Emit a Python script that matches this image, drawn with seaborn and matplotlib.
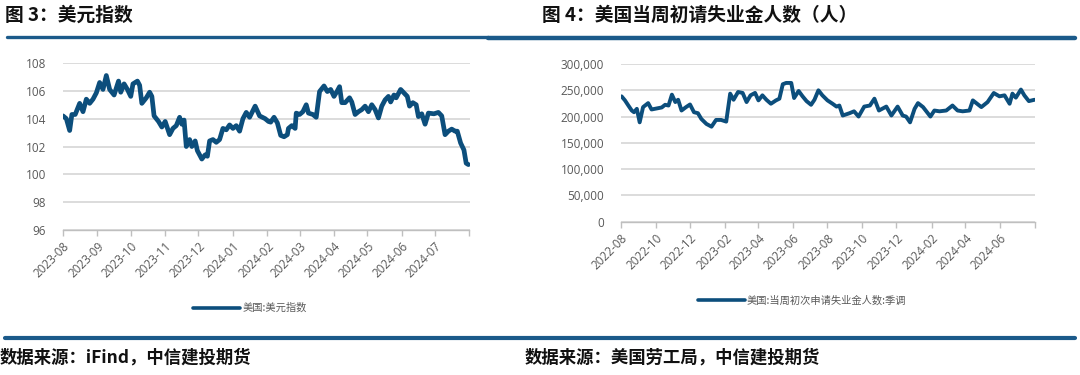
import matplotlib
matplotlib.use("Agg")
import matplotlib.pyplot as plt
from matplotlib.lines import Line2D
from matplotlib.ticker import FuncFormatter
import seaborn as sns
import pandas as pd

# ---------------- data ----------------
dxy_dates = [
    "2023-08-01", "2023-08-04", "2023-08-07", "2023-08-09", "2023-08-12", "2023-08-15", "2023-08-16",
    "2023-08-19", "2023-08-22", "2023-08-25", "2023-08-28", "2023-08-31", "2023-09-03", "2023-09-06",
    "2023-09-09", "2023-09-12", "2023-09-16", "2023-09-20", "2023-09-22", "2023-09-25", "2023-09-28",
    "2023-10-01", "2023-10-03", "2023-10-07", "2023-10-09", "2023-10-11", "2023-10-15", "2023-10-18",
    "2023-10-20", "2023-10-22", "2023-10-26", "2023-10-29", "2023-11-01", "2023-11-05", "2023-11-08",
    "2023-11-11", "2023-11-14", "2023-11-16", "2023-11-18", "2023-11-20", "2023-11-23", "2023-11-25",
    "2023-11-28", "2023-11-30", "2023-12-04", "2023-12-07", "2023-12-09", "2023-12-11", "2023-12-14",
    "2023-12-17", "2023-12-20", "2023-12-23", "2023-12-26", "2023-12-29", "2024-01-01", "2024-01-04",
    "2024-01-07", "2024-01-10", "2024-01-13", "2024-01-16", "2024-01-21", "2024-01-25", "2024-01-30",
    "2024-02-02", "2024-02-04", "2024-02-07", "2024-02-10", "2024-02-13", "2024-02-16", "2024-02-19",
    "2024-02-20", "2024-02-23", "2024-02-26", "2024-02-27", "2024-03-01", "2024-03-04", "2024-03-07",
    "2024-03-09", "2024-03-13", "2024-03-16", "2024-03-19", "2024-03-23", "2024-03-26", "2024-03-29",
    "2024-04-01", "2024-04-04", "2024-04-06", "2024-04-08", "2024-04-11", "2024-04-15", "2024-04-17",
    "2024-04-20", "2024-04-23", "2024-04-26", "2024-04-29", "2024-05-02", "2024-05-05", "2024-05-08",
    "2024-05-11", "2024-05-14", "2024-05-17", "2024-05-20", "2024-05-22", "2024-05-25", "2024-05-27",
    "2024-05-31", "2024-06-03", "2024-06-06", "2024-06-08", "2024-06-11", "2024-06-14", "2024-06-16",
    "2024-06-19", "2024-06-22", "2024-06-25", "2024-06-30", "2024-07-04", "2024-07-07", "2024-07-10",
    "2024-07-13", "2024-07-16", "2024-07-19", "2024-07-21", "2024-07-24", "2024-07-27", "2024-07-29",
    "2024-07-31",
]
dxy_values = [
    104.2, 104.0, 103.15, 104.3, 104.3, 104.9, 105.1,
    104.5, 105.4, 105.1, 105.4, 105.85, 106.6, 106.1,
    107.1, 106.1, 105.7, 106.7, 105.9, 106.5, 106.1,
    105.6, 106.5, 106.7, 106.4, 105.1, 105.5, 105.9,
    105.6, 104.2, 103.8, 103.4, 103.8, 102.85, 103.3,
    103.5, 104.1, 103.6, 103.9, 102.0, 102.5, 102.0,
    102.4, 101.7, 101.1, 101.4, 101.3, 102.4, 102.5,
    102.3, 102.5, 103.3, 103.2, 103.55, 103.3, 103.5,
    103.1, 104.0, 104.45, 104.1, 104.9, 104.2, 104.0,
    103.8, 103.75, 104.1, 103.7, 102.8, 102.7, 102.85,
    103.3, 103.5, 103.3, 104.4, 104.3, 104.5, 105.0,
    104.4, 104.3, 104.1, 105.95, 106.35, 105.95, 106.1,
    105.6, 106.0, 106.3, 105.15, 105.15, 105.5, 105.2,
    104.3, 104.5, 104.65, 104.9, 104.5, 105.0, 104.65,
    104.05, 104.9, 105.35, 105.6, 105.2, 105.7, 105.5,
    106.1, 105.85, 105.6, 104.9, 105.15, 105.0, 104.15,
    104.35, 103.6, 104.4, 104.35, 104.45, 104.2, 102.85,
    103.1, 103.25, 103.1, 103.1, 102.25, 101.75, 100.8,
    100.7,
]

claims_dates = [
    "2022-08-02", "2022-08-08", "2022-08-14", "2022-08-20", "2022-08-24", "2022-08-29", "2022-09-03",
    "2022-09-09", "2022-09-18", "2022-09-24", "2022-10-03", "2022-10-12", "2022-10-18", "2022-10-24",
    "2022-10-30", "2022-11-05", "2022-11-10", "2022-11-16", "2022-11-24", "2022-12-01", "2022-12-08",
    "2022-12-15", "2022-12-21", "2022-12-30", "2023-01-08", "2023-01-16", "2023-01-25", "2023-02-03",
    "2023-02-10", "2023-02-16", "2023-02-24", "2023-03-04", "2023-03-11", "2023-03-18", "2023-03-26",
    "2023-04-01", "2023-04-08", "2023-04-15", "2023-04-23", "2023-05-02", "2023-05-08", "2023-05-14",
    "2023-05-20", "2023-05-29", "2023-06-03", "2023-06-11", "2023-06-18", "2023-06-25", "2023-07-03",
    "2023-07-09", "2023-07-16", "2023-07-23", "2023-08-01", "2023-08-10", "2023-08-17", "2023-08-22",
    "2023-08-28", "2023-09-09", "2023-09-17", "2023-09-25", "2023-10-05", "2023-10-15", "2023-10-23",
    "2023-10-31", "2023-11-13", "2023-11-22", "2023-12-03", "2023-12-12", "2023-12-18", "2023-12-25",
    "2024-01-02", "2024-01-08", "2024-01-17", "2024-01-30", "2024-02-06", "2024-02-15", "2024-02-27",
    "2024-03-09", "2024-03-18", "2024-03-27", "2024-04-08", "2024-04-14", "2024-04-29", "2024-05-10",
    "2024-05-21", "2024-05-31", "2024-06-09", "2024-06-18", "2024-06-23", "2024-06-29", "2024-07-08",
    "2024-07-14", "2024-07-22", "2024-08-01",
]
claims_values = [
    238500, 230800, 221000, 211500, 208300, 214700, 189000,
    218000, 225600, 213500, 215400, 217300, 222400, 221000,
    241700, 227600, 232000, 211500, 218000, 223000, 208300,
    206400, 195500, 186000, 180800, 193600, 193600, 190400,
    243600, 232000, 246800, 245000, 227600, 240400, 245000,
    230800, 240400, 232000, 224400, 230800, 234000, 261500,
    264000, 264000, 235300, 248700, 238500, 229400, 222400,
    232000, 250000, 240400, 230800, 224400, 219000, 221000,
    202000, 206400, 210000, 200000, 219000, 221000, 234000,
    211500, 219000, 202000, 219000, 202000, 200000, 189000,
    214700, 225600, 218000, 200000, 211500, 210000, 211500,
    221000, 211500, 210000, 211500, 230800, 218000, 227500,
    244800, 238500, 240400, 224400, 243600, 236000, 251400,
    240400, 229400, 232000,
]

left_title = "图 3：美元指数"
right_title = "图 4：美国当周初请失业金人数（人）"
left_series = "美国:美元指数"
right_series = "美国:当周初次申请失业金人数:季调"
left_source = "数据来源：iFind，中信建投期货"
right_source = "数据来源：美国劳工局，中信建投期货"
left_yticks = [96, 98, 100, 102, 104, 106, 108]
right_yticks = [0, 50000, 100000, 150000, 200000, 250000, 300000]

# ---------------- style ----------------
sns.set_theme(style="white")
plt.rcParams["font.family"] = ["Open Sans", "Noto Sans CJK SC", "DejaVu Sans"]

LINE = "#0C4E7C"
RULE = "#1B5A8A"
GRID = "#D9D9D9"
TXT = "#595959"

fig = plt.figure(figsize=(10.8, 3.75), dpi=100)

df_l = pd.DataFrame({"date": pd.to_datetime(dxy_dates), "value": dxy_values})
df_r = pd.DataFrame({"date": pd.to_datetime(claims_dates), "value": claims_values})

axl = fig.add_axes([63 / 1080, 1 - 230 / 375, (469.5 - 63) / 1080, (230 - 63) / 375])
axr = fig.add_axes([621 / 1080, 1 - 221.7 / 375, (1034.5 - 621) / 1080, (221.7 - 64) / 375])

sns.lineplot(data=df_l, x="date", y="value", ax=axl, color=LINE, linewidth=3.4, legend=False)
sns.lineplot(data=df_r, x="date", y="value", ax=axr, color=LINE, linewidth=2.8, legend=False)


def style_axis(ax, yticks, xstart, xend, tick_dates):
    ax.set_ylim(yticks[0], yticks[-1])
    ax.set_yticks(yticks)
    ax.set_xlim(pd.Timestamp(xstart), pd.Timestamp(xend))
    ax.set_xticks(pd.to_datetime(tick_dates))
    labels = [pd.Timestamp(d).strftime("%Y-%m") for d in tick_dates]
    labels[-1] = ""
    ax.set_xticklabels(labels, rotation=45, ha="right", rotation_mode="anchor")
    ax.grid(axis="y", color=GRID, linewidth=1.3)
    ax.set_axisbelow(True)
    for s in ["left", "right", "top"]:
        ax.spines[s].set_visible(False)
    ax.spines["bottom"].set_color("#BFBFBF")
    ax.spines["bottom"].set_linewidth(1.0)
    ax.tick_params(axis="x", bottom=True, length=4, width=1.0, color="#BFBFBF",
                   labelsize=8.5, labelcolor=TXT, pad=3)
    ax.tick_params(axis="y", left=False, labelsize=8.5, labelcolor=TXT, pad=6)
    ax.set_xlabel("")
    ax.set_ylabel("")


left_ticks = pd.date_range("2023-08-01", "2024-08-01", freq="MS").strftime("%Y-%m-%d").tolist()
right_ticks = pd.date_range("2022-08-01", "2024-08-01", freq="2MS").strftime("%Y-%m-%d").tolist()
style_axis(axl, left_yticks, "2023-08-01", "2024-08-01", left_ticks)
style_axis(axr, right_yticks, "2022-08-01", "2024-08-01", right_ticks)
axl.yaxis.set_major_formatter(FuncFormatter(lambda v, p: f"{v:.0f}"))
axr.yaxis.set_major_formatter(FuncFormatter(lambda v, p: f"{v:,.0f}"))

# legends
for ax, label, cx, cy in [(axl, left_series, 250 / 1080, 1 - 308 / 375),
                          (axr, right_series, 802 / 1080, 1 - 300.5 / 375)]:
    h = Line2D([0], [0], color=LINE, linewidth=2.6)
    leg = ax.legend([h], [label], loc="center", bbox_to_anchor=(cx, cy),
                    bbox_transform=fig.transFigure, frameon=False,
                    handlelength=4.6, handletextpad=0.2,
                    prop={"family": ["Noto Sans CJK SC"], "size": 7.4})
    for t in leg.get_texts():
        t.set_color(TXT)

# titles
fig.text(5 / 1080, 1 - 15.5 / 375, left_title, fontsize=13.5, fontweight="bold",
         family=["Noto Sans CJK SC"], va="center", ha="left", color="#111111")
fig.text(542 / 1080, 1 - 15.5 / 375, right_title, fontsize=13.5, fontweight="bold",
         family=["Noto Sans CJK SC"], va="center", ha="left", color="#111111")

# rules
fig.add_artist(Line2D([7 / 1080, 488 / 1080], [1 - 37 / 375] * 2, color=RULE, linewidth=2.4,
                      transform=fig.transFigure))
fig.add_artist(Line2D([488 / 1080, 1075 / 1080], [1 - 37.5 / 375] * 2, color=RULE, linewidth=3.2,
                      transform=fig.transFigure))
fig.add_artist(Line2D([5 / 1080, 1075 / 1080], [1 - 338 / 375] * 2, color=RULE, linewidth=3.0,
                      transform=fig.transFigure))

# sources
fig.text(0 / 1080, 1 - 358 / 375, left_source, fontsize=12.5, fontweight="bold",
         family=["Noto Sans CJK SC"], va="center", ha="left", color="#111111")
fig.text(525 / 1080, 1 - 358 / 375, right_source, fontsize=12.5, fontweight="bold",
         family=["Noto Sans CJK SC"], va="center", ha="left", color="#111111")

fig.savefig("out.png", dpi=100)
